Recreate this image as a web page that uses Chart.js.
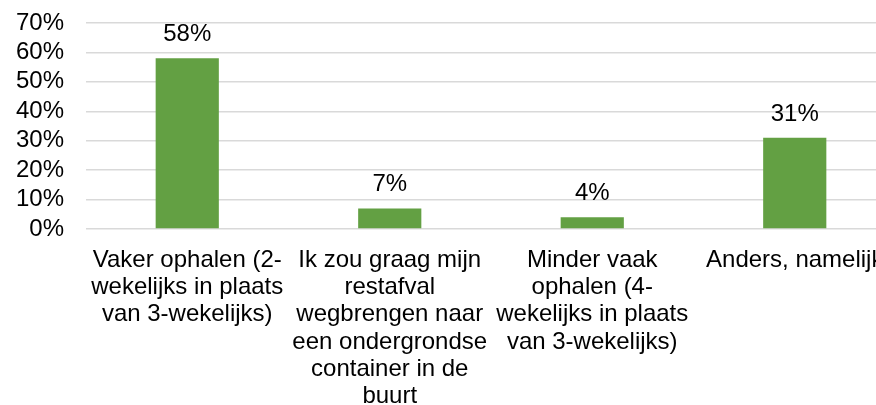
<!DOCTYPE html>
<html>
<head>
<meta charset="utf-8">
<script src="https://cdn.jsdelivr.net/npm/chart.js@4/dist/chart.umd.min.js"></script>
<style>
  html, body { margin: 0; padding: 0; background: #fff; overflow: hidden; }
  #wrap { width: 900px; height: 405px; }
</style>
</head>
<body>
<div id="wrap"><canvas id="resultsChart" width="900" height="405"></canvas></div>
<script>
// categories (multi-line as in the original)
const categories = [
  ["Vaker ophalen (2-", "wekelijks in plaats", "van 3-wekelijks)"],
  ["Ik zou graag mijn", "restafval", "wegbrengen naar", "een ondergrondse", "container in de", "buurt"],
  ["Minder vaak", "ophalen (4-", "wekelijks in plaats", "van 3-wekelijks)"],
  ["Anders, namelijk"]
];
const percentages = [58, 7, 4, 31];
const yTicks = [0, 10, 20, 30, 40, 50, 60, 70];

const barColor = "#63A043";
const font = { family: "'Liberation Sans', Arial, sans-serif", size: 24 };

// value labels above the bars
const barLabels = {
  id: "barLabels",
  afterDatasetsDraw(chart) {
    const ctx = chart.ctx;
    const meta = chart.getDatasetMeta(0);
    ctx.save();
    ctx.font = font.size + "px " + font.family;
    ctx.fillStyle = "#000";
    ctx.textAlign = "center";
    ctx.textBaseline = "alphabetic";
    meta.data.forEach((bar, i) => {
      ctx.fillText(percentages[i] + "%", bar.x, bar.y - 17);
    });
    ctx.restore();
  }
};

let resultsChart = new Chart("resultsChart", {
  type: "bar",
  data: {
    labels: categories,
    datasets: [{
      data: percentages,
      backgroundColor: barColor,
      borderWidth: 0,
      barPercentage: 0.624,
      categoryPercentage: 0.5
    }]
  },
  plugins: [barLabels],
  options: {
    responsive: false,
    animation: false,
    layout: { padding: { top: 23, right: 4, left: 0, bottom: 0 } },
    plugins: {
      legend: { display: false },
      tooltip: { enabled: false }
    },
    scales: {
      x: {
        grid: { display: false, drawTicks: false },
        border: { display: false },
        ticks: {
          color: "#000",
          font: { ...font, lineHeight: 1.13 },
          padding: 18,
          maxRotation: 0,
          minRotation: 0,
          autoSkip: false
        },
        afterFit(axis) {
          axis.height = 176;
          axis.paddingLeft = 0;
          axis.paddingRight = 0;
          axis.paddingTop = 0;
          axis.paddingBottom = 0;
        }
      },
      y: {
        min: 0,
        max: 70,
        afterBuildTicks(axis) {
          axis.ticks = yTicks.map(v => ({ value: v }));
        },
        grid: { color: "#D9D9D9", lineWidth: 1.5, drawTicks: false },
        border: { display: false },
        ticks: {
          color: "#000",
          font: font,
          padding: 22,
          autoSkip: false,
          callback: v => v + "%"
        },
        afterFit(axis) {
          axis.width = 86;
          axis.paddingTop = 0;
          axis.paddingBottom = 0;
        }
      }
    }
  }
});
</script>
</body>
</html>
